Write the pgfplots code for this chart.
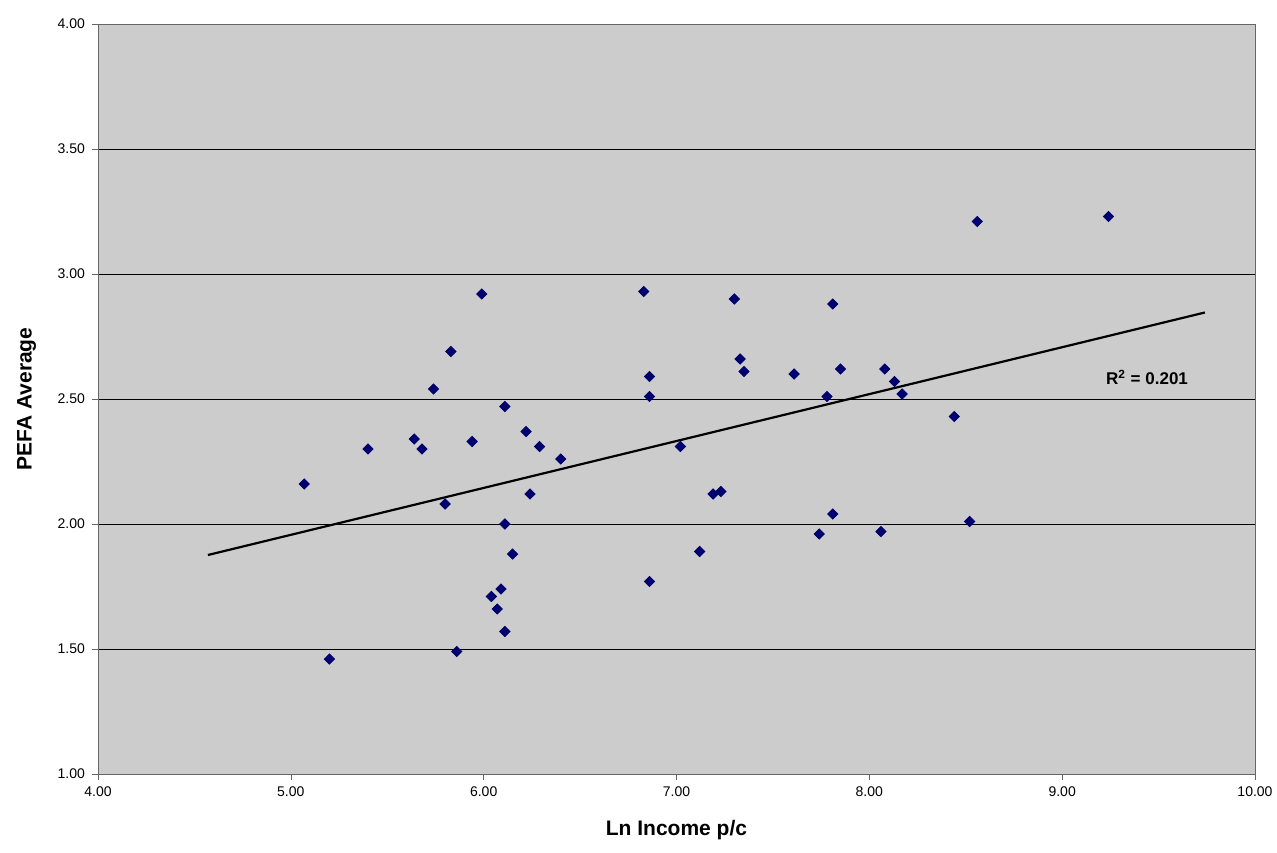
\documentclass[border=0pt]{standalone}
\usepackage{pgfplots}
\pgfplotsset{compat=1.18}
\usepackage{fontspec}
\setmainfont{Liberation Sans}
\begin{document}
\begin{tikzpicture}
\begin{axis}[scale only axis, width=578.5pt, height=375pt,
 xmin=4, xmax=10, ymin=1, ymax=4,
 xtick={4,5,...,10}, ytick={1,1.5,...,4},
 /pgf/number format/.cd, fixed, fixed zerofill, precision=2, assume math mode=true,
 /pgfplots/.cd,
 tick label style={font=\fontsize{7}{8}\selectfont},
 axis background/.style={fill=black!20},
 ymajorgrids, major grid style={black, line width=0.4pt},
 axis line style={black!60}, tick style={black!60},
 tick align=outside, xtick pos=bottom, ytick pos=left,
 major tick length=3pt,
 xlabel={\bfseries Ln Income p/c}, ylabel={\bfseries PEFA Average},
 label style={font=\fontsize{10.5}{12}\selectfont},
 xlabel style={yshift=-5pt}, ylabel style={yshift=4pt}]
\addplot[only marks, mark=square*, mark size=1.8pt, mark options={rotate=45}, color={rgb,255:red,0;green,0;blue,110}] coordinates {
(5.07,2.16)(5.20,1.46)(5.40,2.30)(5.64,2.34)(5.68,2.30)(5.74,2.54)(5.80,2.08)(5.83,2.69)
(5.86,1.49)(5.94,2.33)(5.99,2.92)(6.04,1.71)(6.07,1.66)(6.09,1.74)(6.11,2.47)(6.11,2.00)
(6.11,1.57)(6.15,1.88)(6.22,2.37)(6.24,2.12)(6.29,2.31)(6.40,2.26)(6.83,2.93)(6.86,2.59)
(6.86,2.51)(6.86,1.77)(7.02,2.31)(7.12,1.89)(7.19,2.12)(7.23,2.13)(7.30,2.90)(7.33,2.66)
(7.35,2.61)(7.61,2.60)(7.74,1.96)(7.78,2.51)(7.81,2.88)(7.81,2.04)(7.85,2.62)(8.06,1.97)
(8.08,2.62)(8.13,2.57)(8.17,2.52)(8.44,2.43)(8.52,2.01)(8.56,3.21)(9.24,3.23)};
\addplot[black, line width=1.1pt] coordinates {(4.57,1.876)(9.74,2.846)};
\node[font=\fontsize{8.5}{10}\selectfont\bfseries] at (axis cs:9.44,2.585) {R\textsuperscript{2} = 0.201};
\end{axis}
\pgfresetboundingbox
\path[use as bounding box] ([shift={(-49pt,-39pt)}]current axis.south west) rectangle ([shift={(11pt,12pt)}]current axis.north east);
\end{tikzpicture}
\end{document}
